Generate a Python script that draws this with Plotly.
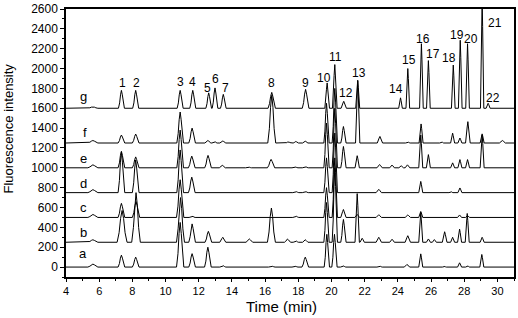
import numpy as np
import plotly.graph_objects as go

# ---- data (retention time in min, peak height above trace baseline) ----
trace_names = ["a", "b", "c", "d", "e", "f", "g"]
trace_offsets = [0, 250, 500, 750, 1000, 1250, 1600]

times_a = [5.62, 7.34, 8.2, 10.88, 11.6, 12.55, 13.45, 16.4, 17.8, 18.42, 19.72, 20.18, 20.7, 22.9, 24.55, 25.38, 26.8, 27.72, 28.2, 29.06]
heights_a = [30, 120, 100, 450, 135, 200, 17, 10, 10, 100, 330, 330, 15, 10, 27, 133, 8, 43, 15, 127]
widths_a = [0.3, 0.2, 0.2, 0.22, 0.2, 0.2, 0.18, 0.2, 0.18, 0.2, 0.16, 0.16, 0.16, 0.16, 0.16, 0.12, 0.12, 0.12, 0.12, 0.12]

times_b = [5.62, 7.38, 8.22, 10.9, 11.6, 12.58, 13.45, 15.05, 16.38, 17.35, 17.85, 18.42, 19.7, 20.2, 20.72, 21.55, 21.85, 22.85, 23.65, 24.6, 25.38, 25.84, 26.2, 26.82, 27.3, 27.72, 28.18, 29.08]
heights_b = [25, 320, 500, 450, 185, 110, 50, 33, 345, 33, 15, 25, 400, 750, 230, 490, 40, 50, 30, 66, 300, 33, 27, 106, 50, 132, 290, 50]
widths_b = [0.3, 0.3, 0.26, 0.24, 0.2, 0.2, 0.18, 0.2, 0.24, 0.18, 0.16, 0.16, 0.16, 0.16, 0.16, 0.13, 0.13, 0.16, 0.14, 0.16, 0.12, 0.12, 0.12, 0.14, 0.12, 0.12, 0.12, 0.12]

times_c = [5.62, 7.34, 8.22, 10.88, 11.6, 17.85, 19.7, 20.2, 20.72, 21.55, 22.85, 24.6, 25.38, 27.72, 28.2]
heights_c = [30, 142, 160, 380, 15, 15, 300, 600, 80, 30, 27, 25, 60, 25, 20]
widths_c = [0.3, 0.2, 0.22, 0.22, 0.18, 0.18, 0.16, 0.16, 0.16, 0.14, 0.16, 0.16, 0.12, 0.12, 0.12]

times_d = [5.62, 7.34, 8.2, 10.88, 11.58, 17.85, 18.42, 19.7, 20.2, 22.85, 25.38, 27.2, 27.74]
heights_d = [30, 410, 330, 430, 156, 12, 12, 350, 600, 33, 113, 10, 47]
widths_d = [0.3, 0.2, 0.2, 0.2, 0.2, 0.18, 0.18, 0.16, 0.16, 0.16, 0.12, 0.12, 0.12]

times_e = [5.62, 7.34, 8.2, 10.88, 11.58, 12.56, 13.42, 15.0, 16.36, 17.8, 18.42, 19.7, 20.2, 20.72, 21.55, 22.9, 23.65, 24.2, 24.58, 25.38, 25.84, 27.3, 27.74, 28.2, 29.08]
heights_e = [30, 166, 110, 380, 118, 125, 25, 8, 85, 10, 12, 450, 600, 215, 122, 33, 28, 20, 30, 330, 133, 50, 83, 83, 330]
widths_e = [0.3, 0.2, 0.2, 0.2, 0.2, 0.2, 0.18, 0.18, 0.22, 0.18, 0.18, 0.16, 0.16, 0.16, 0.13, 0.16, 0.14, 0.14, 0.14, 0.12, 0.12, 0.12, 0.12, 0.12, 0.12]

times_f = [5.62, 7.34, 8.2, 10.88, 11.6, 12.55, 12.95, 13.45, 16.4, 17.4, 17.85, 18.42, 19.7, 20.2, 20.72, 21.58, 22.92, 24.6, 25.4, 26.64, 27.3, 27.74, 28.22, 29.08, 30.3]
heights_f = [25, 80, 90, 312, 150, 25, 15, 20, 480, 12, 15, 18, 400, 550, 166, 630, 66, 10, 192, 12, 99, 50, 215, 92, 25]
widths_f = [0.3, 0.2, 0.2, 0.2, 0.2, 0.18, 0.16, 0.18, 0.24, 0.16, 0.16, 0.16, 0.16, 0.16, 0.16, 0.13, 0.16, 0.14, 0.12, 0.12, 0.12, 0.12, 0.14, 0.12, 0.18]

times_g = [5.62, 7.34, 8.2, 10.88, 11.64, 12.6, 12.98, 13.48, 16.4, 18.44, 19.74, 20.2, 20.74, 21.58, 24.16, 24.6, 25.42, 25.84, 27.34, 27.76, 28.2, 29.08, 29.44]
heights_g = [15, 180, 180, 180, 180, 155, 205, 140, 160, 190, 255, 440, 70, 280, 105, 400, 650, 480, 435, 685, 650, 1100, 50]
widths_g = [0.3, 0.18, 0.18, 0.18, 0.18, 0.17, 0.17, 0.17, 0.22, 0.2, 0.14, 0.14, 0.16, 0.12, 0.11, 0.11, 0.11, 0.11, 0.11, 0.11, 0.11, 0.1, 0.12]

# peak-number labels of standard trace g
peak_labels = [str(i) for i in range(1, 23)]
label_times = [7.4, 8.24, 10.88, 11.64, 12.55, 13.0, 13.6, 16.4, 18.44, 19.54, 20.24, 20.85, 21.68, 23.9, 24.68, 25.54, 26.14, 27.1, 27.54, 28.43, 29.84, 29.74]
label_values = [1853, 1853, 1866, 1866, 1803, 1893, 1803, 1853, 1853, 1903, 2112, 1755, 1953, 1794, 2085, 2300, 2151, 2102, 2343, 2300, 2459, 1705]

# trace name labels
name_times = [5.05, 5.05, 5.05, 5.05, 5.05, 5.14, 5.04]
name_values = [133, 348, 603, 844, 1092, 1357, 1722]

x_ticks = list(range(4, 31, 2))
y_ticks = list(range(0, 2601, 200))
x_range = [4, 31]
y_range = [-100, 2600]

# peak profile (relative positions across the peak base, relative heights) - styling only
shape_pos = [-1.0, -0.6, -0.3, 0.0, 0.3, 0.6, 1.0]
shape_frac = [0.0, 0.3, 0.75, 1.0, 0.75, 0.3, 0.0]

all_times = [times_a, times_b, times_c, times_d, times_e, times_f, times_g]
all_heights = [heights_a, heights_b, heights_c, heights_d, heights_e, heights_f, heights_g]
all_widths = [widths_a, widths_b, widths_c, widths_d, widths_e, widths_f, widths_g]

fig = go.Figure()
for name, off, ts, hs, ws in zip(trace_names, trace_offsets, all_times, all_heights, all_widths):
    verts = [x_range[0], x_range[1]]
    profiles = []
    for t, h, w in zip(ts, hs, ws):
        px = [t + p * w for p in shape_pos]
        py = [h * f for f in shape_frac]
        verts.extend(px)
        profiles.append((px, py))
    grid = np.array(sorted(set(round(v, 4) for v in verts)))
    y = np.full(grid.shape, float(off))
    for px, py in profiles:
        y += np.interp(grid, px, py, left=0.0, right=0.0)
    fig.add_trace(go.Scatter(x=grid, y=y, mode="lines", line=dict(color="black", width=1),
                             name=name, showlegend=False, hoverinfo="skip"))

font_main = "Liberation Sans, Arial, sans-serif"
annotations = []
for lab, t, v in zip(peak_labels, label_times, label_values):
    annotations.append(dict(x=t, y=v, xref="x", yref="y", text=lab, showarrow=False,
                            font=dict(family=font_main, size=12, color="black")))
for lab, t, v in zip(trace_names, name_times, name_values):
    annotations.append(dict(x=t, y=v, xref="x", yref="y", text=lab, showarrow=False,
                            font=dict(family=font_main, size=13, color="black")))
# axis titles placed as paper-referenced annotations (plot area: x 66..516, y 5..277 px)
annotations.append(dict(x=(8 - 66) / 450, y=(277 - 126) / 272, xref="paper", yref="paper",
                        xanchor="center", yanchor="middle",
                        text="Fluorescence intensity", textangle=-90, showarrow=False,
                        font=dict(family=font_main, size=13, color="black")))
annotations.append(dict(x=(282 - 66) / 450, y=(277 - 307) / 272, xref="paper", yref="paper",
                        xanchor="center", yanchor="middle",
                        text="Time (min)", showarrow=False,
                        font=dict(family=font_main, size=15, color="black")))

fig.update_layout(
    width=518, height=318,
    margin=dict(l=66, r=2, t=5, b=41),
    paper_bgcolor="white", plot_bgcolor="white",
    annotations=annotations,
    font=dict(family=font_main, size=12, color="black"),
)

fig.update_xaxes(range=x_range, tickvals=x_ticks, showgrid=False, zeroline=False,
                 showline=True, linecolor="black", linewidth=1.5, mirror=True,
                 ticks="outside", ticklen=3, tickwidth=1, tickcolor="black",
                 minor=dict(ticks="outside", ticklen=2, tickvals=list(range(4, 32)), tickcolor="black"),
                 tickfont=dict(family=font_main, size=11), ticklabeloverflow="allow")
fig.update_yaxes(range=y_range, tickvals=y_ticks, showgrid=False, zeroline=False,
                 showline=True, linecolor="black", linewidth=1.5, mirror=True,
                 ticks="outside", ticklen=4, tickwidth=1, tickcolor="black",
                 minor=dict(ticks="outside", ticklen=2, tickvals=list(range(-100, 2601, 100)), tickcolor="black"),
                 tickfont=dict(family=font_main, size=12), ticklabeloverflow="allow")

fig.write_html("out.html", config={"displayModeBar": False},
               post_script="document.body.style.margin='0';")
